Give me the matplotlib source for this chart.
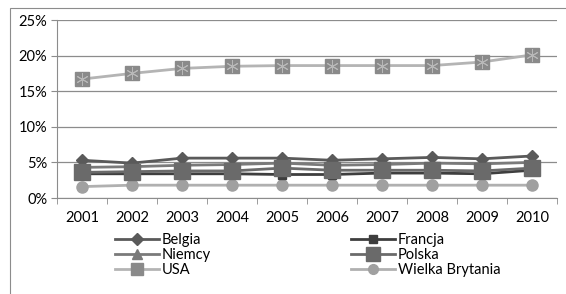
import matplotlib
matplotlib.use('Agg')
import matplotlib.pyplot as plt
from matplotlib.patches import Rectangle
from matplotlib.lines import Line2D

plt.rcParams['font.family'] = ['Lato', 'DejaVu Sans']

years = ['2001', '2002', '2003', '2004', '2005', '2006', '2007', '2008', '2009', '2010']
belgia = [5.3, 4.9, 5.6, 5.6, 5.6, 5.3, 5.5, 5.7, 5.5, 5.9]
francja = [3.4, 3.4, 3.4, 3.4, 3.3, 3.3, 3.5, 3.5, 3.4, 3.9]
niemcy = [4.3, 4.4, 4.6, 4.7, 4.9, 4.6, 4.7, 4.9, 4.8, 5.0]
polska = [3.6, 3.7, 3.8, 3.8, 4.2, 3.9, 3.9, 3.9, 3.8, 4.2]
usa = [16.7, 17.5, 18.2, 18.5, 18.6, 18.6, 18.6, 18.6, 19.1, 20.1]
wb = [1.6, 1.8, 1.8, 1.8, 1.8, 1.8, 1.8, 1.8, 1.8, 1.8]

fig = plt.figure(figsize=(5.66, 2.94), dpi=100)
fig.patches.append(Rectangle((10/566, -0.1), 1.2, 1.1 - 8/294, transform=fig.transFigure,
                             fill=False, edgecolor='#8c8c8c', lw=0.8))
ax = fig.add_axes([57/566, 1 - 198/294, 500/566, 178/294])

x = list(range(len(years)))
ax.plot(x, usa, color='#b4b4b4', lw=2, marker='s', ms=10, mfc='#8a8a8a', mec='#8a8a8a', zorder=3)
ax.plot(x, usa, ls='none', marker=(6, 2, 0), ms=9, mec='#b8b8b8', mew=0.7, zorder=4)
ax.plot(x, wb, color='#b0b0b0', lw=2, marker='o', ms=8, mfc='#a0a0a0', mec='#a0a0a0', zorder=3)
ax.plot(x, niemcy, color='#7a7a7a', lw=2, marker='^', ms=7, mfc='#7a7a7a', mec='#7a7a7a', zorder=3)
ax.plot(x, belgia, color='#5a5a5a', lw=2, marker='D', ms=6, mfc='#5a5a5a', mec='#5a5a5a', zorder=3)
ax.plot(x, francja, color='#3e3e3e', lw=2, marker='s', ms=6, mfc='#3e3e3e', mec='#3e3e3e', zorder=3)
ax.plot(x, polska, color='#6a6a6a', lw=2, marker='s', ms=11, mfc='#6a6a6a', mec='#6a6a6a', zorder=3)

ax.set_xlim(-0.5, 9.5)
ax.set_ylim(0, 25)
ax.set_yticks([0, 5, 10, 15, 20, 25])
ax.set_yticklabels(['0%', '5%', '10%', '15%', '20%', '25%'], fontsize=10.5)
ax.set_xticks(x)
ax.set_xticklabels(years, fontsize=10.5)
ax.set_xticks([i - 0.5 for i in range(11)], minor=True)
ax.tick_params(axis='x', which='major', length=0, pad=9)
ax.tick_params(axis='x', which='minor', length=4, color='#8c8c8c')
ax.tick_params(axis='y', length=4, color='#8c8c8c', pad=3)
ax.grid(axis='y', color='#8c8c8c', lw=0.9)
ax.set_axisbelow(True)
for s in ['top', 'right']:
    ax.spines[s].set_visible(False)
for s in ['left', 'bottom']:
    ax.spines[s].set_color('#8c8c8c')

handles = [
    Line2D([], [], color='#5a5a5a', lw=2, marker='D', ms=6),
    Line2D([], [], color='#7a7a7a', lw=2, marker='^', ms=7),
    Line2D([], [], color='#b4b4b4', lw=2, marker='s', ms=9, mfc='#8a8a8a', mec='#8a8a8a'),
    Line2D([], [], color='#3e3e3e', lw=2, marker='s', ms=6),
    Line2D([], [], color='#6a6a6a', lw=2, marker='s', ms=10),
    Line2D([], [], color='#b0b0b0', lw=2, marker='o', ms=7, mfc='#a0a0a0', mec='#a0a0a0'),
]
labels = ['Belgia', 'Niemcy', 'USA', 'Francja', 'Polska', 'Wielka Brytania']
fig.legend(handles, labels, ncol=2, loc='upper left', bbox_to_anchor=(108/566, 1 - 226/294),
           frameon=False, fontsize=10.5, handlelength=3.0, handletextpad=0.2,
           labelspacing=0.05, columnspacing=9.6, borderpad=0)

fig.savefig('out.png', dpi=100)
